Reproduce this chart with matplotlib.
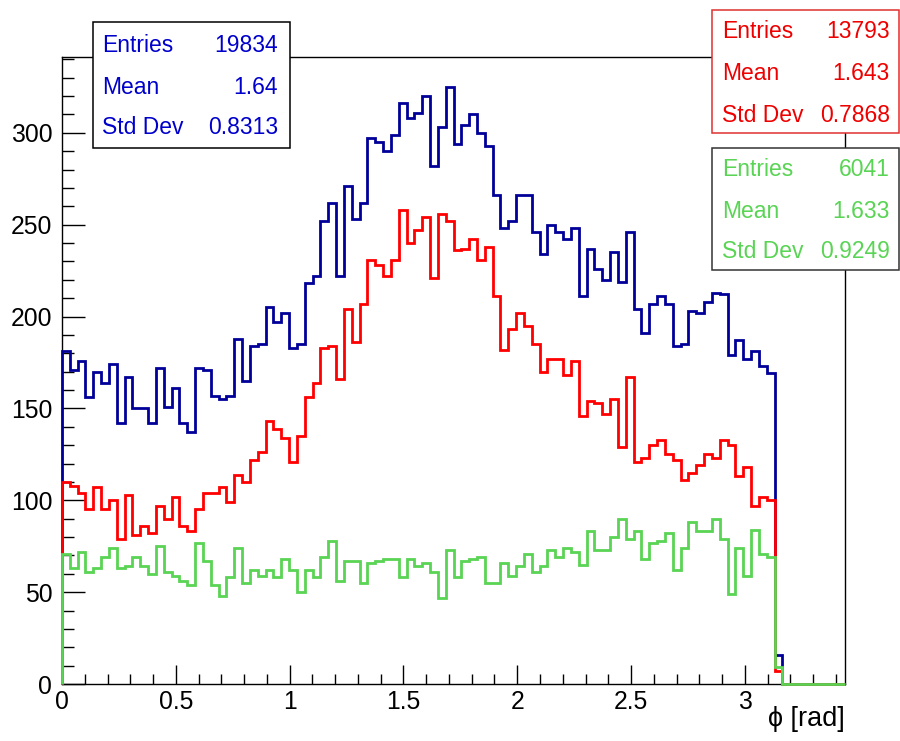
import numpy as np
import matplotlib
matplotlib.use("Agg")
import matplotlib.pyplot as plt
from matplotlib.patches import Rectangle

# ---- data (bin contents) ----
x_min, x_max, n_bins = 0.0, 3.44, 100

blue_counts = [181, 171, 176, 156, 170, 164, 174, 142, 167, 150,
               150, 142, 172, 151, 161, 142, 137, 172, 171, 157,
               155, 157, 188, 165, 184, 185, 205, 197, 202, 183,
               185, 218, 222, 252, 262, 222, 271, 253, 262, 297,
               295, 290, 299, 316, 308, 311, 320, 282, 303, 325,
               294, 304, 310, 300, 293, 266, 248, 252, 266, 266,
               246, 234, 250, 246, 242, 248, 211, 237, 226, 220,
               235, 219, 246, 204, 191, 207, 211, 207, 184, 185,
               203, 202, 208, 213, 212, 179, 187, 177, 181, 173,
               169, 16, 0, 0, 0, 0, 0, 0, 0, 0]

red_counts = [110, 108, 104, 95, 107, 95, 100, 79, 103, 81,
              86, 82, 97, 90, 102, 86, 83, 95, 104, 104,
              107, 99, 114, 110, 122, 126, 143, 139, 134, 121,
              135, 156, 164, 183, 184, 166, 204, 186, 207, 231,
              228, 222, 231, 258, 240, 247, 254, 221, 256, 252,
              236, 237, 242, 231, 238, 211, 182, 193, 202, 195,
              185, 170, 177, 177, 168, 176, 146, 154, 153, 147,
              155, 129, 167, 121, 123, 130, 133, 125, 122, 111,
              115, 119, 125, 123, 133, 130, 113, 118, 97, 102,
              100, 7, 0, 0, 0, 0, 0, 0, 0, 0]

green_counts = [71, 63, 72, 61, 63, 69, 74, 63, 64, 69,
                64, 60, 75, 61, 59, 56, 54, 77, 67, 54,
                48, 58, 74, 55, 62, 59, 62, 58, 68, 62,
                50, 62, 58, 69, 78, 56, 67, 67, 55, 66,
                67, 68, 68, 58, 68, 64, 66, 61, 47, 73,
                58, 67, 68, 69, 55, 55, 66, 59, 64, 71,
                61, 64, 73, 69, 74, 72, 65, 83, 73, 73,
                80, 90, 79, 83, 68, 77, 78, 82, 62, 74,
                88, 83, 83, 90, 79, 49, 74, 59, 84, 71,
                69, 9, 0, 0, 0, 0, 0, 0, 0, 0]

stats_blue = [("Entries", "19834"), ("Mean", "1.64"), ("Std Dev", "0.8313")]
stats_red = [("Entries", "13793"), ("Mean", "1.643"), ("Std Dev", "0.7868")]
stats_green = [("Entries", "6041"), ("Mean", "1.633"), ("Std Dev", "0.9249")]

x_major = [0, 0.5, 1, 1.5, 2, 2.5, 3]
x_major_labels = ["0", "0.5", "1", "1.5", "2", "2.5", "3"]
y_major = [0, 50, 100, 150, 200, 250, 300]
x_title = "\u03d5 [rad]"

# ---- style ----
W, H = 900, 741
C_BLUE = "#000099"
C_RED = "#ff0000"
C_GREEN = "#59d454"
FONT = ["Liberation Sans", "DejaVu Sans"]
plt.rcParams["font.family"] = FONT

fig = plt.figure(figsize=(W / 100, H / 100), dpi=100)
fig.patch.set_facecolor("white")

def fx(px):
    return px / W

def fy(py):
    return 1 - py / H

ax_l, ax_r, ax_t, ax_b = 62, 845, 57, 684
ax = fig.add_axes([fx(ax_l), fy(ax_b), (ax_r - ax_l) / W, (ax_b - ax_t) / H])

edges = np.linspace(x_min, x_max, n_bins + 1)
for counts, col in [(blue_counts, C_BLUE), (red_counts, C_RED), (green_counts, C_GREEN)]:
    ax.stairs(counts, edges, baseline=0, fill=False, color=col, linewidth=2.0,
              zorder=3, clip_on=False)

ymax = 1.05 * max(blue_counts)
ax.set_xlim(x_min, x_max)
ax.set_ylim(0, ymax)

ax.set_xticks(x_major)
ax.set_xticklabels(x_major_labels)
ax.set_xticks(np.arange(0, 3.441, 0.1), minor=True)
ax.set_yticks(y_major)
ax.set_yticks(np.arange(0, ymax, 10), minor=True)

ax.tick_params(axis="x", which="major", direction="in", length=13.7, width=1.0,
               labelsize=17.8, pad=4)
ax.tick_params(axis="x", which="minor", direction="in", length=6.9, width=1.0)
ax.tick_params(axis="y", which="major", direction="in", length=16.9, width=1.0,
               labelsize=17.8, pad=7)
ax.tick_params(axis="y", which="minor", direction="in", length=8.4, width=1.0)
for s in ax.spines.values():
    s.set_linewidth(1.0)
    s.set_color("black")

fig.text(fx(845), fy(719), x_title, ha="right", va="center", fontsize=19.5,
         family=FONT)

def stat_box(x0, y0, x1, y1, rows, text_col, edge_col, row_y, tx_l, tx_r):
    rect = Rectangle((fx(x0), fy(y1)), (x1 - x0) / W, (y1 - y0) / H,
                     transform=fig.transFigure, facecolor="white",
                     edgecolor=edge_col, linewidth=1.1, zorder=10)
    fig.add_artist(rect)
    for (lab, val), yy in zip(rows, row_y):
        fig.text(fx(tx_l), fy(yy), lab, ha="left", va="center", color=text_col,
                 fontsize=16.5, zorder=11)
        fig.text(fx(tx_r), fy(yy), val, ha="right", va="center", color=text_col,
                 fontsize=16.5, zorder=11)

stat_box(93, 22, 290, 148, stats_blue, "#0000cc", "black", [45, 87, 128], 102, 278)
stat_box(712, 10, 899, 133, stats_red, "#ee0000", "#e03030", [32, 73, 115], 722, 890)
stat_box(712, 148, 899, 270, stats_green, C_GREEN, "#333333", [169, 211, 252], 722, 890)

fig.savefig("out.png", dpi=100, facecolor="white")
